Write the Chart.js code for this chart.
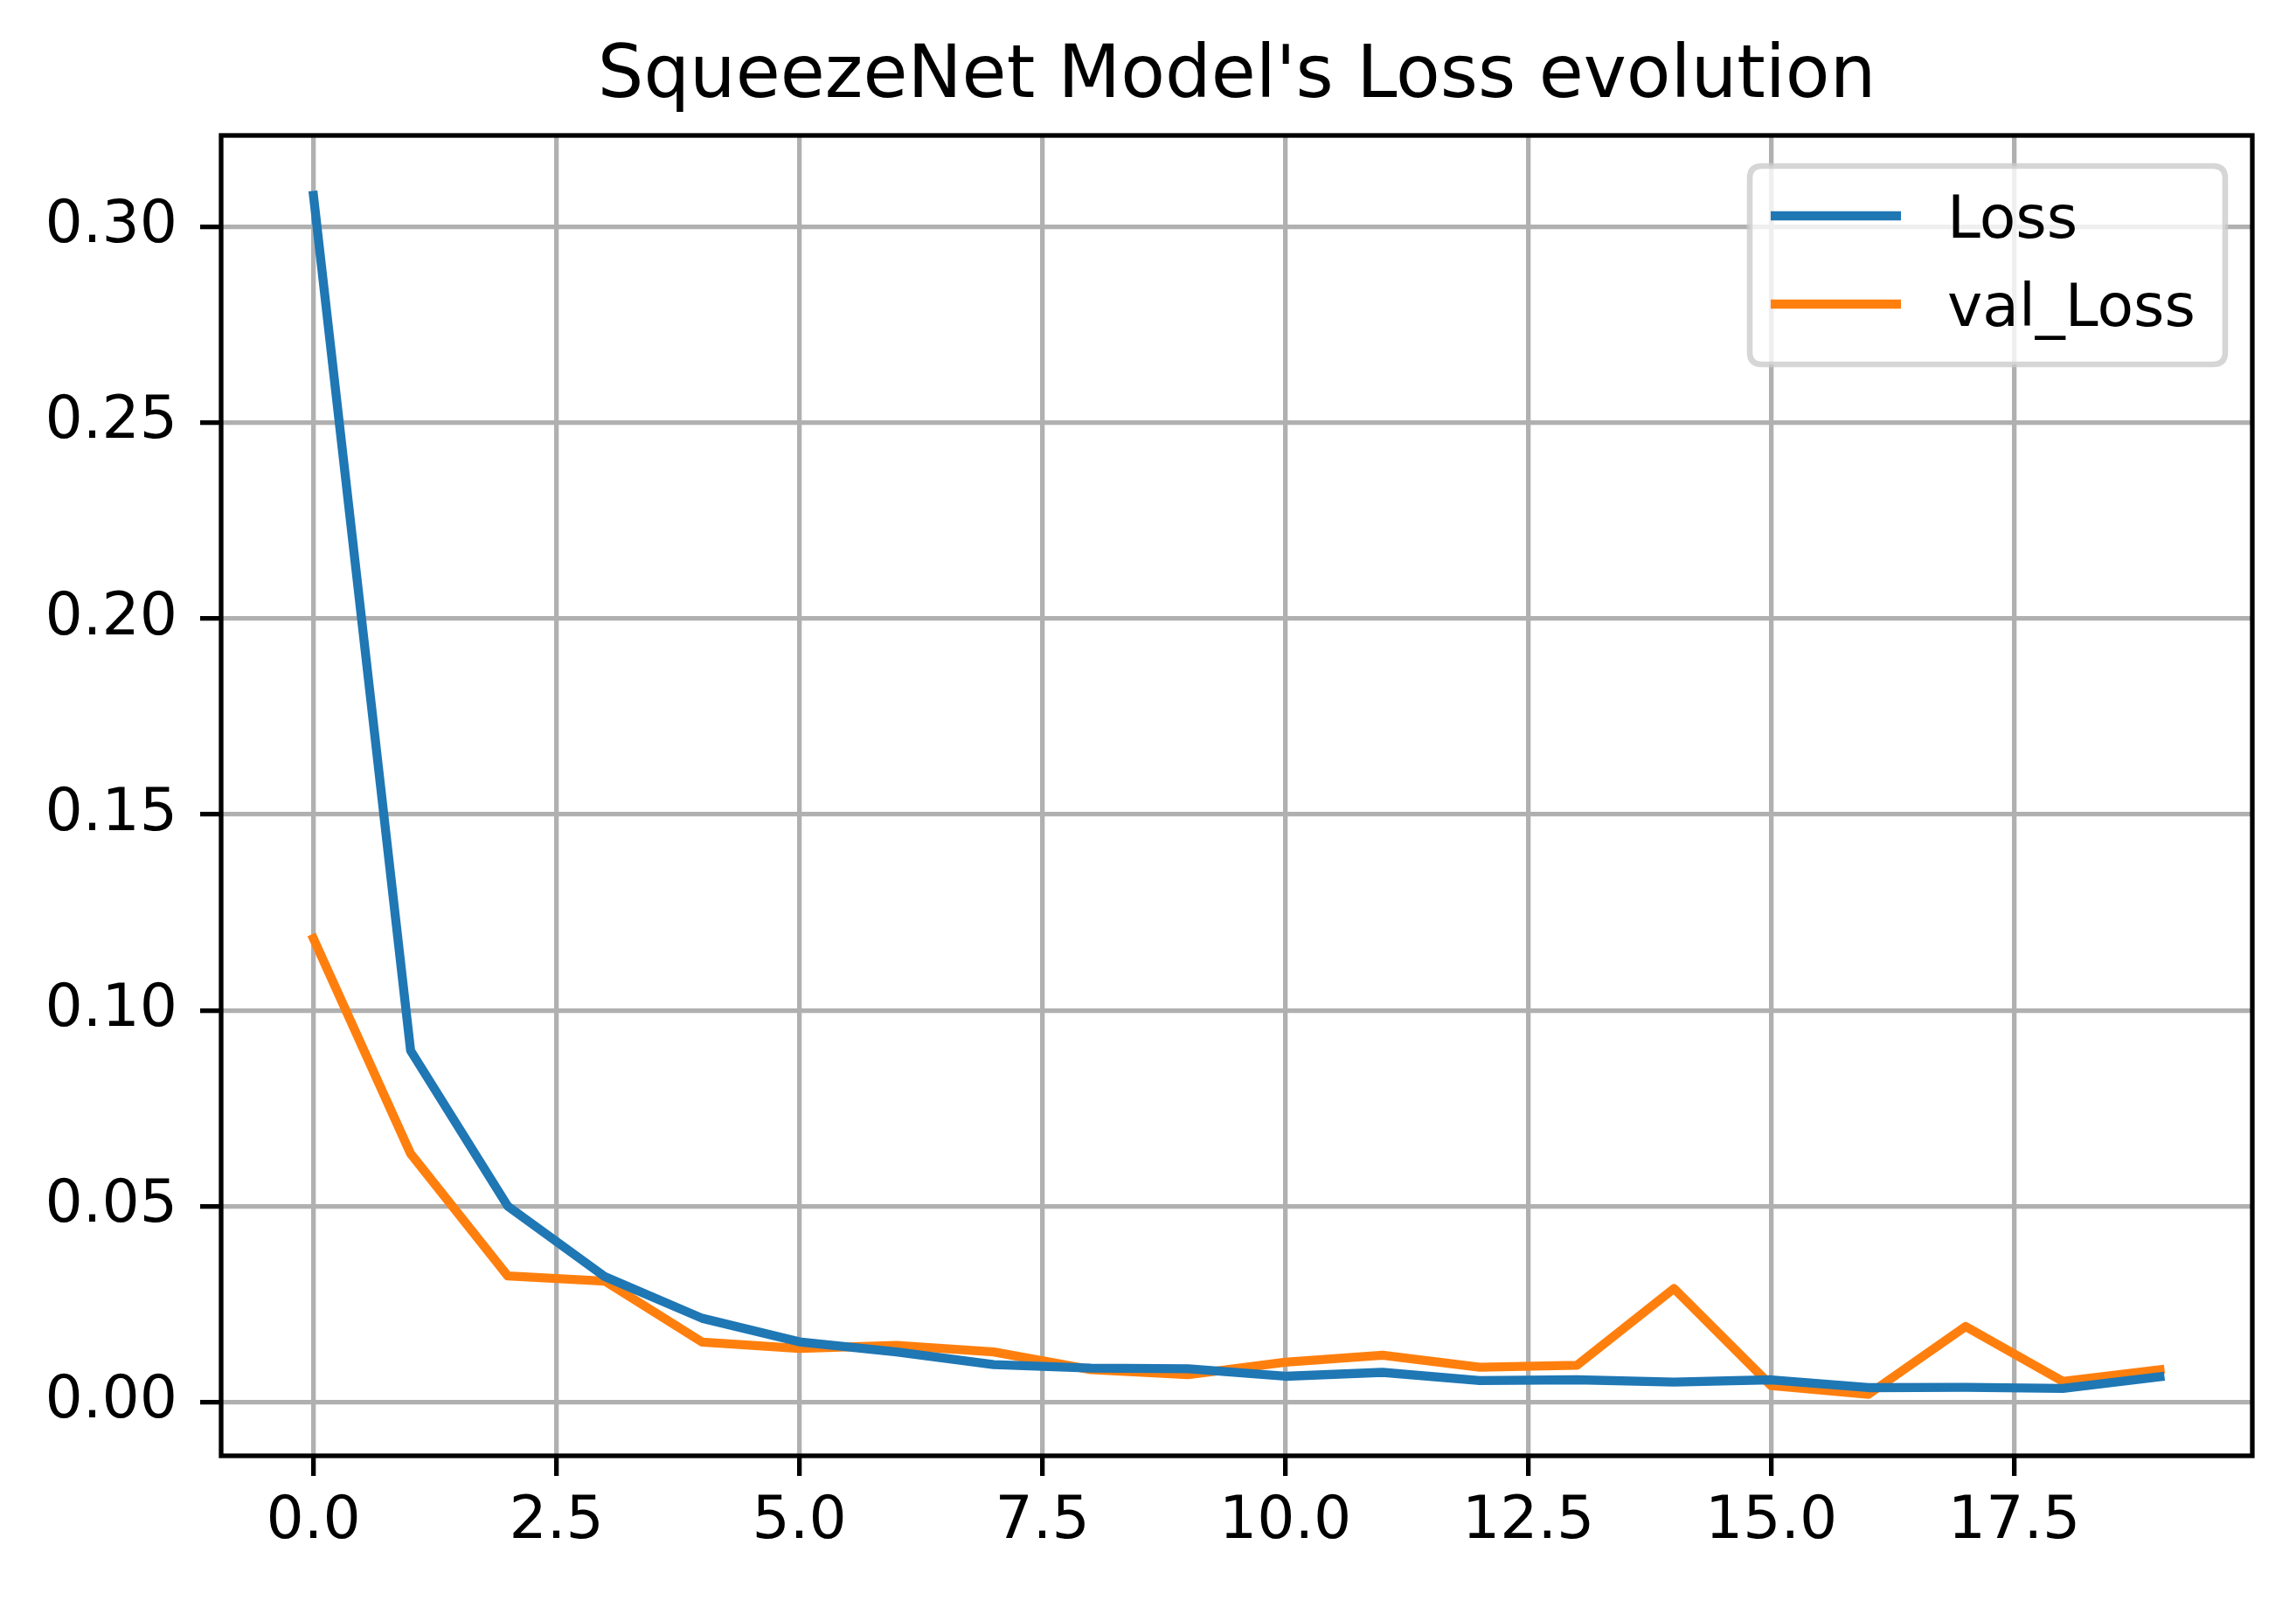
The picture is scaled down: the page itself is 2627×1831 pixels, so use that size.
<!DOCTYPE html>
<html>
<head>
<meta charset="utf-8">
<script src="https://cdn.jsdelivr.net/npm/chart.js@4.4.0/dist/chart.umd.min.js"></script>
<style>
  html, body { margin: 0; padding: 0; background: #fff; }
  #c { display: block; }
</style>
</head>
<body>
<canvas id="c" width="2627" height="1831"></canvas>
<script>
const chartTitle = "SqueezeNet Model's Loss evolution";
const epochs = [0,1,2,3,4,5,6,7,8,9,10,11,12,13,14,15,16,17,18,19];
const loss = [0.308, 0.0897, 0.0500, 0.0320, 0.0214, 0.0154, 0.0128, 0.0096, 0.0087, 0.0085, 0.0066, 0.0076, 0.0055, 0.0057, 0.0051, 0.0057, 0.0037, 0.0038, 0.0035, 0.0065];
const valLoss = [0.1183, 0.0634, 0.0322, 0.0309, 0.0153, 0.0137, 0.0145, 0.0128, 0.0083, 0.0070, 0.0102, 0.0120, 0.0089, 0.0094, 0.0290, 0.0042, 0.0020, 0.0193, 0.0053, 0.0083];
const seriesLabels = ['Loss', 'val_Loss'];
const seriesColors = ['#1f77b4', '#ff7f0e'];
const xTicks = [0, 2.5, 5, 7.5, 10, 12.5, 15, 17.5];
const yTicks = [0, 0.05, 0.10, 0.15, 0.20, 0.25, 0.30];

const FONT = 'DejaVu Sans';
const TICK_PX = 68;
const TITLE_PX = 83;
const LW = 5.3;
const DATA_LW = 10.3;

const frameLegend = {
  id: 'frameLegend',
  afterDatasetsDraw(chart) {
    const ctx = chart.ctx, a = chart.chartArea;
    ctx.save();
    ctx.strokeStyle = '#000';
    ctx.lineWidth = LW;
    ctx.lineJoin = 'miter';
    ctx.strokeRect(a.left, a.top, a.right - a.left, a.bottom - a.top);

    // legend
    const bx = a.right - 575, by = a.top + 35, bw = 544, bh = 227, r = 14;
    ctx.beginPath();
    ctx.moveTo(bx + r, by);
    ctx.lineTo(bx + bw - r, by);
    ctx.quadraticCurveTo(bx + bw, by, bx + bw, by + r);
    ctx.lineTo(bx + bw, by + bh - r);
    ctx.quadraticCurveTo(bx + bw, by + bh, bx + bw - r, by + bh);
    ctx.lineTo(bx + r, by + bh);
    ctx.quadraticCurveTo(bx, by + bh, bx, by + bh - r);
    ctx.lineTo(bx, by + r);
    ctx.quadraticCurveTo(bx, by, bx + r, by);
    ctx.closePath();
    ctx.fillStyle = 'rgba(255,255,255,0.8)';
    ctx.fill();
    ctx.strokeStyle = 'rgba(204,204,204,0.8)';
    ctx.lineWidth = 6.6;
    ctx.stroke();

    chart.data.datasets.forEach((ds, i) => {
      const yy = by + 57 + i * 101;
      ctx.beginPath();
      ctx.strokeStyle = ds.borderColor;
      ctx.lineWidth = DATA_LW;
      ctx.lineCap = 'butt';
      ctx.moveTo(bx + 24, yy);
      ctx.lineTo(bx + 173, yy);
      ctx.stroke();
      ctx.fillStyle = '#000';
      ctx.font = TICK_PX + 'px "' + FONT + '"';
      ctx.textBaseline = 'alphabetic';
      ctx.textAlign = 'left';
      ctx.fillText(ds.label, bx + 226, yy + 25);
    });
    ctx.restore();
  }
};

new Chart(document.getElementById('c'), {
  type: 'line',
  data: {
    datasets: [
      { label: seriesLabels[0], data: epochs.map((x, i) => ({ x, y: loss[i] })), borderColor: seriesColors[0], backgroundColor: seriesColors[0] },
      { label: seriesLabels[1], data: epochs.map((x, i) => ({ x, y: valLoss[i] })), borderColor: seriesColors[1], backgroundColor: seriesColors[1] }
    ]
  },
  options: {
    responsive: false,
    animation: false,
    devicePixelRatio: 1,
    layout: { padding: { left: 0, right: 50, top: 0, bottom: 0 } },
    elements: {
      line: { borderWidth: DATA_LW, tension: 0, borderCapStyle: 'square', borderJoinStyle: 'round', fill: false },
      point: { radius: 0, hoverRadius: 0 }
    },
    plugins: {
      legend: { display: false },
      tooltip: { enabled: false },
      title: {
        display: true,
        fullSize: false,
        text: chartTitle,
        color: '#000',
        font: { family: FONT, size: TITLE_PX, weight: 'normal', lineHeight: 1.2 },
        padding: { top: 39.5, bottom: 15.9 }
      }
    },
    scales: {
      x: {
        type: 'linear',
        min: -0.95,
        max: 19.95,
        afterBuildTicks: (axis) => { axis.ticks = xTicks.map(v => ({ value: v })); },
        afterFit: (s) => { s.height = 165; },
        ticks: {
          autoSkip: false,
          maxRotation: 0,
          color: '#000',
          padding: 13,
          font: { family: FONT, size: TICK_PX },
          callback: (v) => Number(v).toFixed(1)
        },
        grid: { color: '#b0b0b0', lineWidth: LW, drawTicks: true, tickLength: 23, tickColor: '#000', tickWidth: LW },
        border: { display: false }
      },
      y: {
        type: 'linear',
        min: -0.0137,
        max: 0.3233,
        afterBuildTicks: (axis) => { axis.ticks = yTicks.map(v => ({ value: v })); },
        afterFit: (s) => { s.width = 253; },
        ticks: {
          autoSkip: false,
          color: '#000',
          padding: 26,
          font: { family: FONT, size: TICK_PX },
          callback: (v) => Number(v).toFixed(2)
        },
        grid: { color: '#b0b0b0', lineWidth: LW, drawTicks: true, tickLength: 24, tickColor: '#000', tickWidth: LW },
        border: { display: false }
      }
    }
  },
  plugins: [frameLegend]
});
</script>
</body>
</html>
